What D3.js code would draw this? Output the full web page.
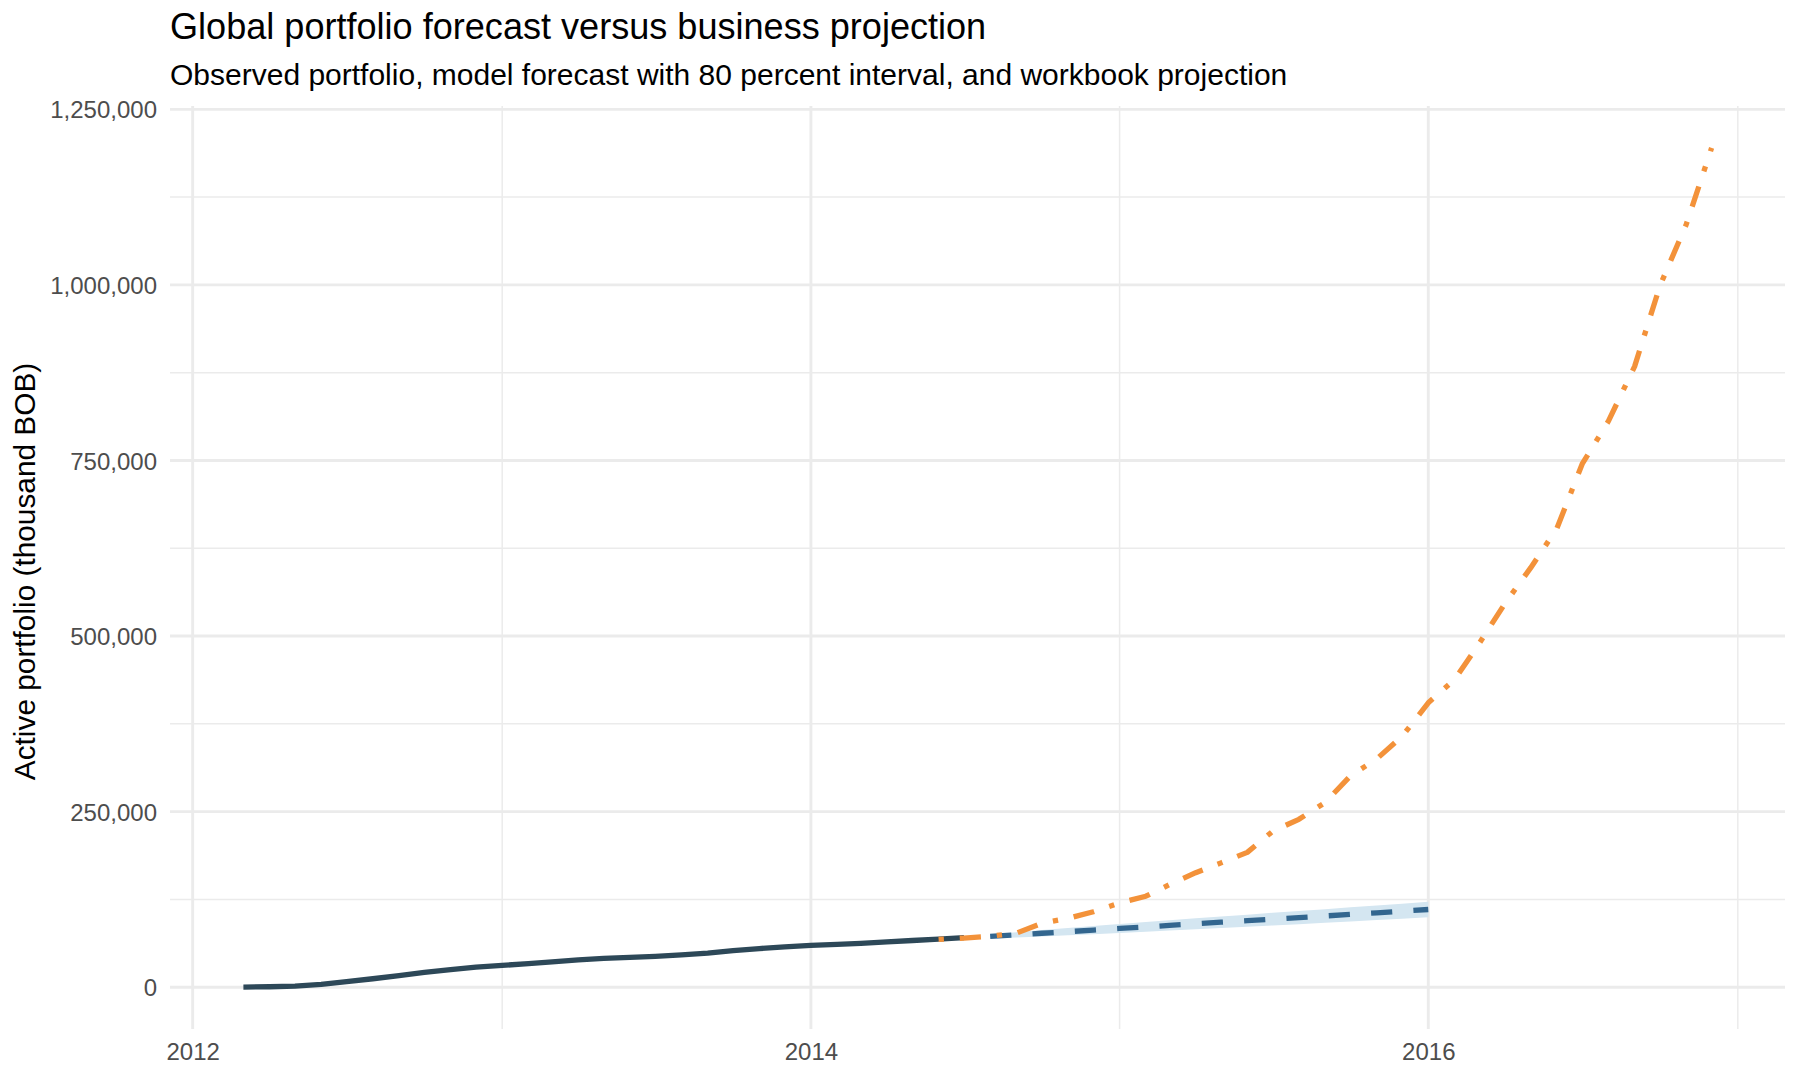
<!DOCTYPE html>
<html>
<head>
<meta charset="utf-8">
<script src="https://cdn.jsdelivr.net/npm/d3@7"></script>
<style>
  body { margin: 0; background: #fff; }
  svg { font-family: "Liberation Sans", Arial, sans-serif; }
</style>
</head>
<body>
<svg class="forecast-chart" width="1800" height="1080"></svg>
<script>
// monthly series, thousand BOB
const observedStart = new Date(2012, 2, 1);   // Mar 2012
const observed = [
  200, 600, 1500, 4000, 8000, 12000, 16500, 21000, 25000, 28500,
  31000, 33500, 36000, 39000, 41000, 42500, 44000, 46000, 48500, 52000,
  55000, 57500, 59500, 61000, 62500, 64500, 66500, 68500, 70500
];

const forecastStart = new Date(2014, 7, 1);   // Aug 2014
const forecast = [
  72400, 74600, 76800, 79000, 81300, 83600, 85800, 88000, 90300,
  92500, 94700, 96900, 99100, 101400, 103600, 105900, 108200, 110600
];
const forecastLo = [
  69800, 70900, 72300, 73800, 75500, 77200, 78900, 80600, 82500,
  84300, 86100, 87900, 89700, 91700, 93500, 95500, 97500, 99600
];
const forecastHi = [
  75000, 78300, 81300, 84200, 87100, 90000, 92700, 95400, 98100,
  100700, 103300, 105900, 108500, 111100, 113700, 116300, 118900, 121600
];

const projectionStart = new Date(2014, 5, 1); // Jun 2014
const projection = [
  68000, 70000, 72500, 77000, 91000, 98000, 107500,
  120000, 129500, 146000, 163000, 177000, 192000, 222000, 239000, 263000, 301000, 325000, 357000,
  405000, 438000, 489000, 547000, 597000, 653000, 745000, 806000, 884000, 999000, 1086000, 1195000
];

const yMajor = [0, 250000, 500000, 750000, 1000000, 1250000];
const yMinor = [125000, 375000, 625000, 875000, 1125000];
const xMajor = [2012, 2014, 2016];
const xMinor = [2013, 2015, 2017];

const titleText = "Global portfolio forecast versus business projection";
const subtitleText = "Observed portfolio, model forecast with 80 percent interval, and workbook projection";
const yTitle = "Active portfolio (thousand BOB)";

const panel = { left: 170, right: 1785, top: 106, bottom: 1029 };
const lw = 5.3;

function monthly(start, values) {
   return values.map((v, i) => ({ date: d3.timeMonth.offset(start, i), value: v }));
}

const obsData = monthly(observedStart, observed);
const fcData = monthly(forecastStart, forecast)
   .map((d, i) => ({ ...d, lo: forecastLo[i], hi: forecastHi[i] }));
const projData = monthly(projectionStart, projection);

// ggplot style 5% expansion
const allDates = [...obsData, ...fcData, ...projData].map(d => d.date);
const [d0, d1] = d3.extent(allDates);
const dPad = (d1 - d0) * 0.05;
const xScale = d3.scaleTime()
   .domain([new Date(+d0 - dPad), new Date(+d1 + dPad)])
   .range([panel.left, panel.right]);

const allValues = [...observed, ...forecastLo, ...forecastHi, ...projection];
const [v0, v1] = d3.extent(allValues);
const vPad = (v1 - v0) * 0.05;
const yScale = d3.scaleLinear()
   .domain([v0 - vPad, v1 + vPad])
   .range([panel.bottom, panel.top]);

const svg = d3.select("svg.forecast-chart");

// grid
const grid = svg.append("g").attr("stroke", "#ebebeb").attr("fill", "none");
grid.selectAll("line.ymin").data(yMinor).join("line")
   .attr("x1", panel.left).attr("x2", panel.right)
   .attr("y1", d => yScale(d)).attr("y2", d => yScale(d))
   .attr("stroke-width", 1.5);
grid.selectAll("line.xmin").data(xMinor).join("line")
   .attr("x1", d => xScale(new Date(d, 0, 1))).attr("x2", d => xScale(new Date(d, 0, 1)))
   .attr("y1", panel.top).attr("y2", panel.bottom)
   .attr("stroke-width", 1.5);
grid.selectAll("line.ymaj").data(yMajor).join("line")
   .attr("x1", panel.left).attr("x2", panel.right)
   .attr("y1", d => yScale(d)).attr("y2", d => yScale(d))
   .attr("stroke-width", 2.9);
grid.selectAll("line.xmaj").data(xMajor).join("line")
   .attr("x1", d => xScale(new Date(d, 0, 1))).attr("x2", d => xScale(new Date(d, 0, 1)))
   .attr("y1", panel.top).attr("y2", panel.bottom)
   .attr("stroke-width", 2.9);

// interval ribbon
svg.append("path")
   .datum(fcData)
   .attr("fill", "#d4e6f1")
   .attr("d", d3.area()
      .x(d => xScale(d.date))
      .y0(d => yScale(d.lo))
      .y1(d => yScale(d.hi)));

const line = d3.line().x(d => xScale(d.date)).y(d => yScale(d.value));

svg.append("path")
   .datum(fcData)
   .attr("fill", "none")
   .attr("stroke", "#33668f")
   .attr("stroke-width", lw)
   .attr("stroke-dasharray", `${4 * lw} ${4 * lw}`)
   .attr("stroke-linejoin", "round")
   .attr("d", line);

svg.append("path")
   .datum(obsData)
   .attr("fill", "none")
   .attr("stroke", "#2d4858")
   .attr("stroke-width", lw)
   .attr("stroke-linejoin", "round")
   .attr("d", line);

svg.append("path")
   .datum(projData)
   .attr("fill", "none")
   .attr("stroke", "#f3923a")
   .attr("stroke-width", lw)
   .attr("stroke-dasharray", `${lw} ${3 * lw} ${4 * lw} ${3 * lw}`)
   .attr("stroke-linejoin", "round")
   .attr("d", line);

// axes
const yAxis = svg.append("g")
   .attr("transform", `translate(${panel.left - 13},0)`)
   .call(d3.axisLeft(yScale).tickValues(yMajor).tickSize(0).tickPadding(0).tickFormat(d3.format(",")));
yAxis.select(".domain").remove();
yAxis.selectAll("text")
   .attr("fill", "#4d4d4d")
   .attr("font-size", 24)
   .attr("dy", "0.36em")
   .style("font-family", "'Liberation Sans', Arial, sans-serif");

const xAxis = svg.append("g")
   .attr("transform", `translate(0,${panel.bottom + 13})`)
   .call(d3.axisBottom(xScale).tickValues(xMajor.map(y => new Date(y, 0, 1)))
      .tickSize(0).tickPadding(0).tickFormat(d3.timeFormat("%Y")));
xAxis.select(".domain").remove();
xAxis.selectAll("text")
   .attr("fill", "#4d4d4d")
   .attr("font-size", 24)
   .attr("dy", "0.73em")
   .style("font-family", "'Liberation Sans', Arial, sans-serif");

svg.append("text")
   .attr("transform", `translate(35,${(panel.top + panel.bottom) / 2 + 4}) rotate(-90)`)
   .attr("text-anchor", "middle")
   .attr("font-size", 29.8)
   .attr("fill", "#000")
   .text(yTitle);

// titles
svg.append("text")
   .attr("x", 170).attr("y", 39)
   .attr("font-size", 36.1)
   .attr("fill", "#000")
   .text(titleText);

svg.append("text")
   .attr("x", 170).attr("y", 85)
   .attr("font-size", 30)
   .attr("fill", "#000")
   .text(subtitleText);
</script>
</body>
</html>
